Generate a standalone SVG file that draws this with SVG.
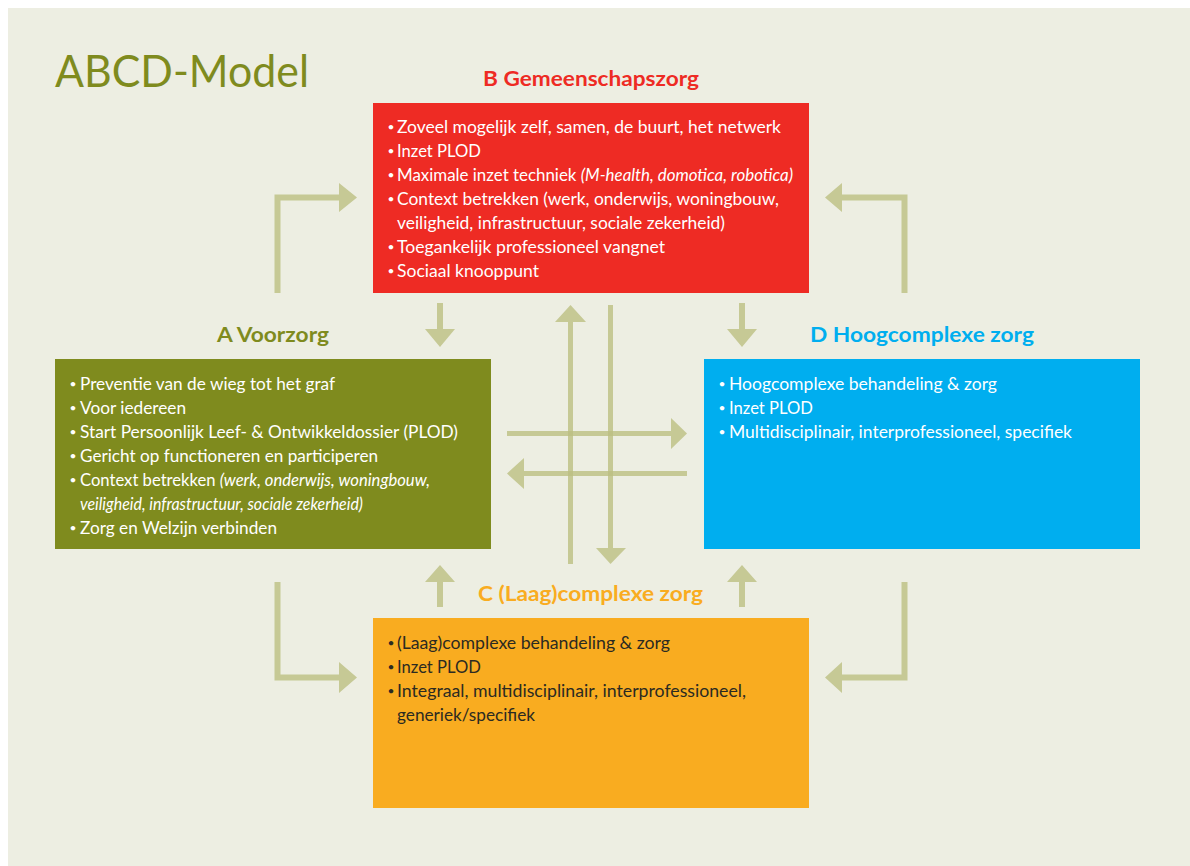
<svg xmlns="http://www.w3.org/2000/svg" width="1190" height="866" viewBox="0 0 1190 866">
<style>
.bg{fill:#EDEEE2}
.arr{fill:#BBBF82;opacity:0.8}
.t{font-family:Lato,"Open Sans","Liberation Sans",sans-serif;font-size:17px}
.b{font-size:12px;text-anchor:middle}
.w{fill:#FFFFFF}
.dk{fill:#2B2A22}
.h{font-family:Lato,"Open Sans","Liberation Sans",sans-serif;font-size:21px;font-weight:bold}
.i{font-style:italic}
</style>
<rect x="0" y="0" width="1190" height="866" fill="#FFFFFF"/>
<rect class="bg" x="8" y="8" width="1182" height="858"/>
<text x="55" y="87" font-family="Lato,'Open Sans','Liberation Sans',sans-serif" font-size="44" font-weight="normal" fill="#7F8B1E" textLength="254" lengthAdjust="spacingAndGlyphs">ABCD-Model</text>

<g id="connectors">
  <path class="arr" d="M274.5,293 V194.5 H339 V183 L357,197.5 L339,212 V200.5 H280.5 V293 Z"/>
  <path class="arr" d="M907.5,293 V194.5 H842 V183 L825,197.5 L842,212 V200.5 H901.5 V293 Z"/>
  <path class="arr" d="M437,303 H443 V329 H455 L440,347 L425,329 H437 Z"/>
  <path class="arr" d="M739,303 H745 V329 H757 L742,347 L727,329 H739 Z"/>
  <path class="arr" d="M274.5,582 V680.5 H339 V693 L357,677.5 L339,662 V674.5 H280.5 V582 Z"/>
  <path class="arr" d="M907.5,582 V680.5 H842 V693 L825,677.5 L842,662 V674.5 H901.5 V582 Z"/>
  <path class="arr" d="M437,607 H443 V582 H455 L440,565 L425,582 H437 Z"/>
  <path class="arr" d="M739,607 H745 V582 H757 L742,565 L727,582 H739 Z"/>
  <path class="arr" d="M568,564 V322 H555 L570.5,305 L586,322 H573 V564 Z"/>
  <path class="arr" d="M608,305 H613 V548 H626 L610.5,564 L596,548 H608 Z"/>
  <path class="arr" d="M507,431 H671 V418 L687,433.5 L671,449 V436 H507 Z"/>
  <path class="arr" d="M687,471 H524 V458 L507,473.5 L524,489 V476 H687 Z"/>
</g>

<g id="nodeB">
  <text class="h" x="483" y="86" fill="#EE2B24" textLength="216" lengthAdjust="spacingAndGlyphs">B Gemeenschapszorg</text>
  <rect x="373" y="103" width="436" height="190" fill="#EE2B24"/>
  <g class="t w">
    <text class="b" x="391" y="131">•</text><text x="397" y="133" textLength="384" lengthAdjust="spacingAndGlyphs">Zoveel mogelijk zelf, samen, de buurt, het netwerk</text>
    <text class="b" x="391" y="155">•</text><text x="397" y="157" textLength="84" lengthAdjust="spacingAndGlyphs">Inzet PLOD</text>
    <text class="b" x="391" y="179">•</text><text x="397" y="181" textLength="396" lengthAdjust="spacingAndGlyphs">Maximale inzet techniek <tspan class="i">(M-health, domotica, robotica)</tspan></text>
    <text class="b" x="391" y="203">•</text><text x="397" y="205" textLength="382" lengthAdjust="spacingAndGlyphs">Context betrekken (werk, onderwijs, woningbouw,</text>
    <text x="397" y="229" textLength="328" lengthAdjust="spacingAndGlyphs">veiligheid, infrastructuur, sociale zekerheid)</text>
    <text class="b" x="391" y="251">•</text><text x="397" y="253" textLength="268" lengthAdjust="spacingAndGlyphs">Toegankelijk professioneel vangnet</text>
    <text class="b" x="391" y="275">•</text><text x="397" y="277" textLength="142" lengthAdjust="spacingAndGlyphs">Sociaal knooppunt</text>
  </g>
</g>

<g id="nodeA">
  <text class="h" x="217" y="342" fill="#7F8B1E" textLength="112" lengthAdjust="spacingAndGlyphs">A Voorzorg</text>
  <rect x="55" y="359" width="436" height="190" fill="#7F8B1E"/>
  <g class="t w">
    <text class="b" x="73" y="388">•</text><text x="80" y="390" textLength="255" lengthAdjust="spacingAndGlyphs">Preventie van de wieg tot het graf</text>
    <text class="b" x="73" y="412">•</text><text x="80" y="414" textLength="106" lengthAdjust="spacingAndGlyphs">Voor iedereen</text>
    <text class="b" x="73" y="436">•</text><text x="80" y="438" textLength="378" lengthAdjust="spacingAndGlyphs">Start Persoonlijk Leef- &amp; Ontwikkeldossier (PLOD)</text>
    <text class="b" x="73" y="460">•</text><text x="80" y="462" textLength="298" lengthAdjust="spacingAndGlyphs">Gericht op functioneren en participeren</text>
    <text class="b" x="73" y="484">•</text><text x="80" y="486" textLength="350" lengthAdjust="spacingAndGlyphs">Context betrekken <tspan class="i">(werk, onderwijs, woningbouw,</tspan></text>
    <text class="i" x="80" y="510" textLength="283" lengthAdjust="spacingAndGlyphs">veiligheid, infrastructuur, sociale zekerheid)</text>
    <text class="b" x="73" y="532">•</text><text x="80" y="534" textLength="197" lengthAdjust="spacingAndGlyphs">Zorg en Welzijn verbinden</text>
  </g>
</g>

<g id="nodeD">
  <text class="h" x="810" y="342" fill="#00AEEF" textLength="224" lengthAdjust="spacingAndGlyphs">D Hoogcomplexe zorg</text>
  <rect x="704" y="359" width="436" height="190" fill="#00AEEF"/>
  <g class="t w">
    <text class="b" x="722" y="388">•</text><text x="729" y="390" textLength="268" lengthAdjust="spacingAndGlyphs">Hoogcomplexe behandeling &amp; zorg</text>
    <text class="b" x="722" y="412">•</text><text x="729" y="414" textLength="84" lengthAdjust="spacingAndGlyphs">Inzet PLOD</text>
    <text class="b" x="722" y="436">•</text><text x="729" y="438" textLength="343" lengthAdjust="spacingAndGlyphs">Multidisciplinair, interprofessioneel, specifiek</text>
  </g>
</g>

<g id="nodeC">
  <text class="h" x="478" y="601" fill="#F9AC20" textLength="225" lengthAdjust="spacingAndGlyphs">C (Laag)complexe zorg</text>
  <rect x="373" y="618" width="436" height="190" fill="#F9AC20"/>
  <g class="t dk">
    <text class="b" x="391" y="647">•</text><text x="397" y="649" textLength="273" lengthAdjust="spacingAndGlyphs">(Laag)complexe behandeling &amp; zorg</text>
    <text class="b" x="391" y="671">•</text><text x="397" y="673" textLength="84" lengthAdjust="spacingAndGlyphs">Inzet PLOD</text>
    <text class="b" x="391" y="695">•</text><text x="397" y="697" textLength="349" lengthAdjust="spacingAndGlyphs">Integraal, multidisciplinair, interprofessioneel,</text>
    <text x="397" y="721" textLength="138" lengthAdjust="spacingAndGlyphs">generiek/specifiek</text>
  </g>
</g>
</svg>
